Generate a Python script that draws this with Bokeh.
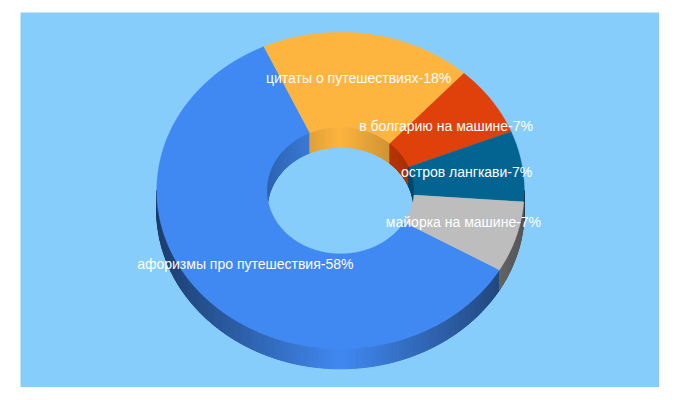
import numpy as np
from bokeh.plotting import figure
from bokeh.models import Range1d, ColumnDataSource
from bokeh.core.properties import value
from bokeh.embed import file_html
from bokeh.resources import INLINE

# --- data ---
categories = ["афоризмы про путешествия", "цитаты о путешествиях",
              "в болгарию на машине", "остров лангкави", "майорка на машине"]
values = [58, 18, 7, 7, 7]
colors = ["#4189f2", "#feb53f", "#e0410a", "#046491", "#bdbdbd"]

# --- layout ---
PANEL = "#87cdfb"
X0, X1, Y0, Y1 = 20, 659, 12, 387
CX, CY, RX, RY = 340.0, 190.0, 183.8, 158.3
HOLE = 0.4
DEPTH = 20.0
START = 120.1
LABEL_R = 0.7
LABEL_DX = [0, -1.5, 0, -1, 0]
LABEL_DY = [-1.5, -2.5, -1.5, -1.5, -1.5]
K_OUT, K_IN = 0.55, 0.27
FONT = "Liberation Sans"
FONT_SIZE = "14px"


def pt(deg, rx=RX, ry=RY):
    a = np.radians(deg)
    return CX + rx * np.sin(a), CY - ry * np.cos(a)


def shade(hexcol, f):
    r, g, b = (int(hexcol[i:i + 2], 16) for i in (1, 3, 5))
    return "#%02x%02x%02x" % (int(r * f), int(g * f), int(b * f))


total = sum(values)
spans = [v / total * 360 for v in values]
starts = START + np.concatenate([[0], np.cumsum(spans)[:-1]])

p = figure(width=X1, height=Y1, output_backend="svg",
           toolbar_location=None, x_range=Range1d(X0, X1), y_range=Range1d(Y1, Y0),
           min_border_left=X0, min_border_top=Y0, min_border_right=0, min_border_bottom=0,
           background_fill_color=PANEL, border_fill_color="white", outline_line_color=None)
p.axis.visible = False
p.grid.visible = False

sx, sy, sc = [], [], []


def add_strip(a0, a1, rx, ry, col, k):
    xa, ya = pt(a0, rx, ry)
    xb, yb = pt(a1, rx, ry)
    mid = (a0 + a1) / 2
    f = 1 - k * abs(np.sin(np.radians(mid)))
    sx.append([xa, xb, xb, xa])
    sy.append([ya, yb, yb + DEPTH, ya + DEPTH])
    sc.append(shade(col, f))


for s, w, col in zip(starts, spans, colors):
    e = s + w
    angs = np.arange(np.floor(s), np.ceil(e) + 1, 1.0)
    angs = np.clip(angs, s, e)
    for a0, a1 in zip(angs[:-1], angs[1:]):
        if a1 <= a0:
            continue
        mid = ((a0 + a1) / 2) % 360
        if 90 < mid < 270:
            add_strip(a0, a1, RX, RY, col, K_OUT)
        else:
            add_strip(a0, a1, RX * HOLE, RY * HOLE, col, K_IN)

p.patches(sx, sy, fill_color=sc, line_color=sc, line_width=1.0)

# top faces
for s, w, col in zip(starts, spans, colors):
    t = np.linspace(s, s + w, int(w) + 2)
    ox, oy = pt(t)
    ix, iy = pt(t[::-1], RX * HOLE, RY * HOLE)
    p.patch(np.concatenate([ox, ix]), np.concatenate([oy, iy]), fill_color=col,
            line_color=col, line_width=0.3)

# labels
mids = starts + np.array(spans) / 2
lx, ly = pt(mids, RX * LABEL_R, RY * LABEL_R)
src = ColumnDataSource(dict(
    x=lx + np.array(LABEL_DX), y=ly + np.array(LABEL_DY),
    t=["%s-%d%%" % (c, v) for c, v in zip(categories, values)]))
p.text("x", "y", text="t", source=src, text_color="white", text_align="center",
       text_baseline="middle", text_font=value(FONT), text_font_size=value(FONT_SIZE))

open("out.html", "w").write(file_html(p, INLINE))
